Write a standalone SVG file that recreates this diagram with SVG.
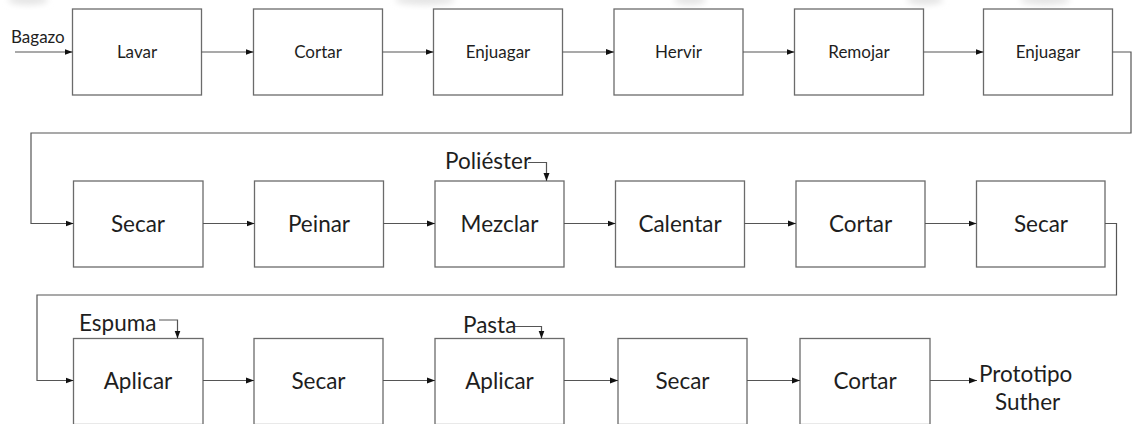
<svg xmlns="http://www.w3.org/2000/svg" width="1132" height="424" viewBox="0 0 1132 424">
  <style>
    .box { fill: #ffffff; stroke: #6b6b6b; stroke-width: 1.3; }
    .lbl { font-family: Lato, "Open Sans", sans-serif; fill: #1e1e1e; text-anchor: middle; }
    .sm { font-size: 17px; }
    .lg { font-size: 22.5px; }
    .side { font-family: Lato, "Open Sans", sans-serif; fill: #1e1e1e; }
    .wire { fill: none; stroke: #555555; stroke-width: 1.2; }
    .arr { marker-end: url(#head); }
    .smudge { fill: #e4e4e4; filter: url(#soft); }
  </style>
  <defs>
    <marker id="head" markerWidth="8" markerHeight="7" refX="8" refY="3.5" orient="auto" markerUnits="userSpaceOnUse">
      <path d="M0,0.5 L8,3.5 L0,6.5 z" fill="#111111"/>
    </marker>
    <filter id="soft" x="-50%" y="-50%" width="200%" height="200%">
      <feGaussianBlur stdDeviation="3"/>
    </filter>
  </defs>

  <rect width="1132" height="424" fill="#ffffff"/>

  <!-- faint grey haze along the top edge -->
  <g id="haze">
    <ellipse class="smudge" cx="28" cy="0" rx="20" ry="5"/>
    <ellipse class="smudge" cx="425" cy="0" rx="30" ry="5"/>
    <ellipse class="smudge" cx="690" cy="0" rx="16" ry="5"/>
    <ellipse class="smudge" cx="925" cy="0" rx="18" ry="5"/>
    <ellipse class="smudge" cx="1045" cy="0" rx="25" ry="5"/>
  </g>

  <!-- Row 1 -->
  <g id="n-lavar"><rect class="box" x="72.5" y="9" width="129" height="86"/><text class="lbl sm" x="137" y="58">Lavar</text></g>
  <g id="n-cortar1"><rect class="box" x="253.5" y="9" width="129" height="86"/><text class="lbl sm" x="318" y="58">Cortar</text></g>
  <g id="n-enjuagar1"><rect class="box" x="433.5" y="9" width="129" height="86"/><text class="lbl sm" x="498" y="58">Enjuagar</text></g>
  <g id="n-hervir"><rect class="box" x="614" y="9" width="129" height="86"/><text class="lbl sm" x="678.5" y="58">Hervir</text></g>
  <g id="n-remojar"><rect class="box" x="794.5" y="9" width="129" height="86"/><text class="lbl sm" x="859" y="58">Remojar</text></g>
  <g id="n-enjuagar2"><rect class="box" x="983.5" y="9" width="129" height="86"/><text class="lbl sm" x="1048" y="58">Enjuagar</text></g>

  <!-- Row 2 -->
  <g id="n-secar1"><rect class="box" x="73.5" y="181" width="129.5" height="86"/><text class="lbl lg" x="138" y="232">Secar</text></g>
  <g id="n-peinar"><rect class="box" x="254.5" y="181" width="129" height="86"/><text class="lbl lg" x="319" y="232">Peinar</text></g>
  <g id="n-mezclar"><rect class="box" x="435" y="181" width="129" height="86"/><text class="lbl lg" x="499.5" y="232">Mezclar</text></g>
  <g id="n-calentar"><rect class="box" x="615.5" y="181" width="129" height="86"/><text class="lbl lg" x="680" y="232">Calentar</text></g>
  <g id="n-cortar2"><rect class="box" x="796" y="181" width="129" height="86"/><text class="lbl lg" x="860.5" y="232">Cortar</text></g>
  <g id="n-secar2"><rect class="box" x="976.5" y="181" width="128.5" height="86"/><text class="lbl lg" x="1041" y="232">Secar</text></g>

  <!-- Row 3 -->
  <g id="n-aplicar1"><rect class="box" x="73.5" y="338.5" width="129.5" height="86"/><text class="lbl lg" x="138" y="389">Aplicar</text></g>
  <g id="n-secar3"><rect class="box" x="254" y="338.5" width="129" height="86"/><text class="lbl lg" x="318.5" y="389">Secar</text></g>
  <g id="n-aplicar2"><rect class="box" x="435" y="338.5" width="129" height="86"/><text class="lbl lg" x="499.5" y="389">Aplicar</text></g>
  <g id="n-secar4"><rect class="box" x="618" y="338.5" width="129" height="86"/><text class="lbl lg" x="682.5" y="389">Secar</text></g>
  <g id="n-cortar3"><rect class="box" x="800" y="338.5" width="130" height="86"/><text class="lbl lg" x="865" y="389">Cortar</text></g>

  <!-- Inputs and output labels -->
  <g id="n-bagazo"><text class="side sm" x="11" y="43">Bagazo</text></g>
  <g id="n-poliester"><text class="side lg" x="445" y="169">Poliéster</text></g>
  <g id="n-espuma"><text class="side lg" x="79" y="331">Espuma</text></g>
  <g id="n-pasta"><text class="side lg" x="463" y="333">Pasta</text></g>
  <g id="n-prototipo"><text class="side lg" x="979" y="382">Prototipo</text><text class="side lg" x="995" y="410">Suther</text></g>

  <!-- Connectors -->
  <g id="connectors">
    <path class="wire arr" d="M15,52 H72.5"/>
    <path class="wire arr" d="M201.5,52 H253.5"/>
    <path class="wire arr" d="M382.5,52 H433.5"/>
    <path class="wire arr" d="M562.5,52 H614"/>
    <path class="wire arr" d="M743,52 H794.5"/>
    <path class="wire arr" d="M923.5,52 H983.5"/>
    <path class="wire arr" d="M1112.5,52 H1131 V133 H31 V223.5 H73.5"/>

    <path class="wire arr" d="M203,223.5 H254.5"/>
    <path class="wire arr" d="M383.5,223.5 H435"/>
    <path class="wire arr" d="M564,223.5 H615.5"/>
    <path class="wire arr" d="M744.5,223.5 H796"/>
    <path class="wire arr" d="M925,223.5 H976.5"/>
    <path class="wire arr" d="M1105,223.5 H1116.5 V295 H37 V380.5 H73.5"/>

    <path class="wire arr" d="M203,380.5 H254"/>
    <path class="wire arr" d="M383,380.5 H435"/>
    <path class="wire arr" d="M564,380.5 H618"/>
    <path class="wire arr" d="M747,380.5 H800"/>
    <path class="wire arr" d="M930,380.5 H977"/>

    <path class="wire arr" d="M528,162.5 H546.5 V181"/>
    <path class="wire arr" d="M159,320 H177.5 V338.5"/>
    <path class="wire arr" d="M515,326.5 H541.5 V338.5"/>
  </g>
</svg>
